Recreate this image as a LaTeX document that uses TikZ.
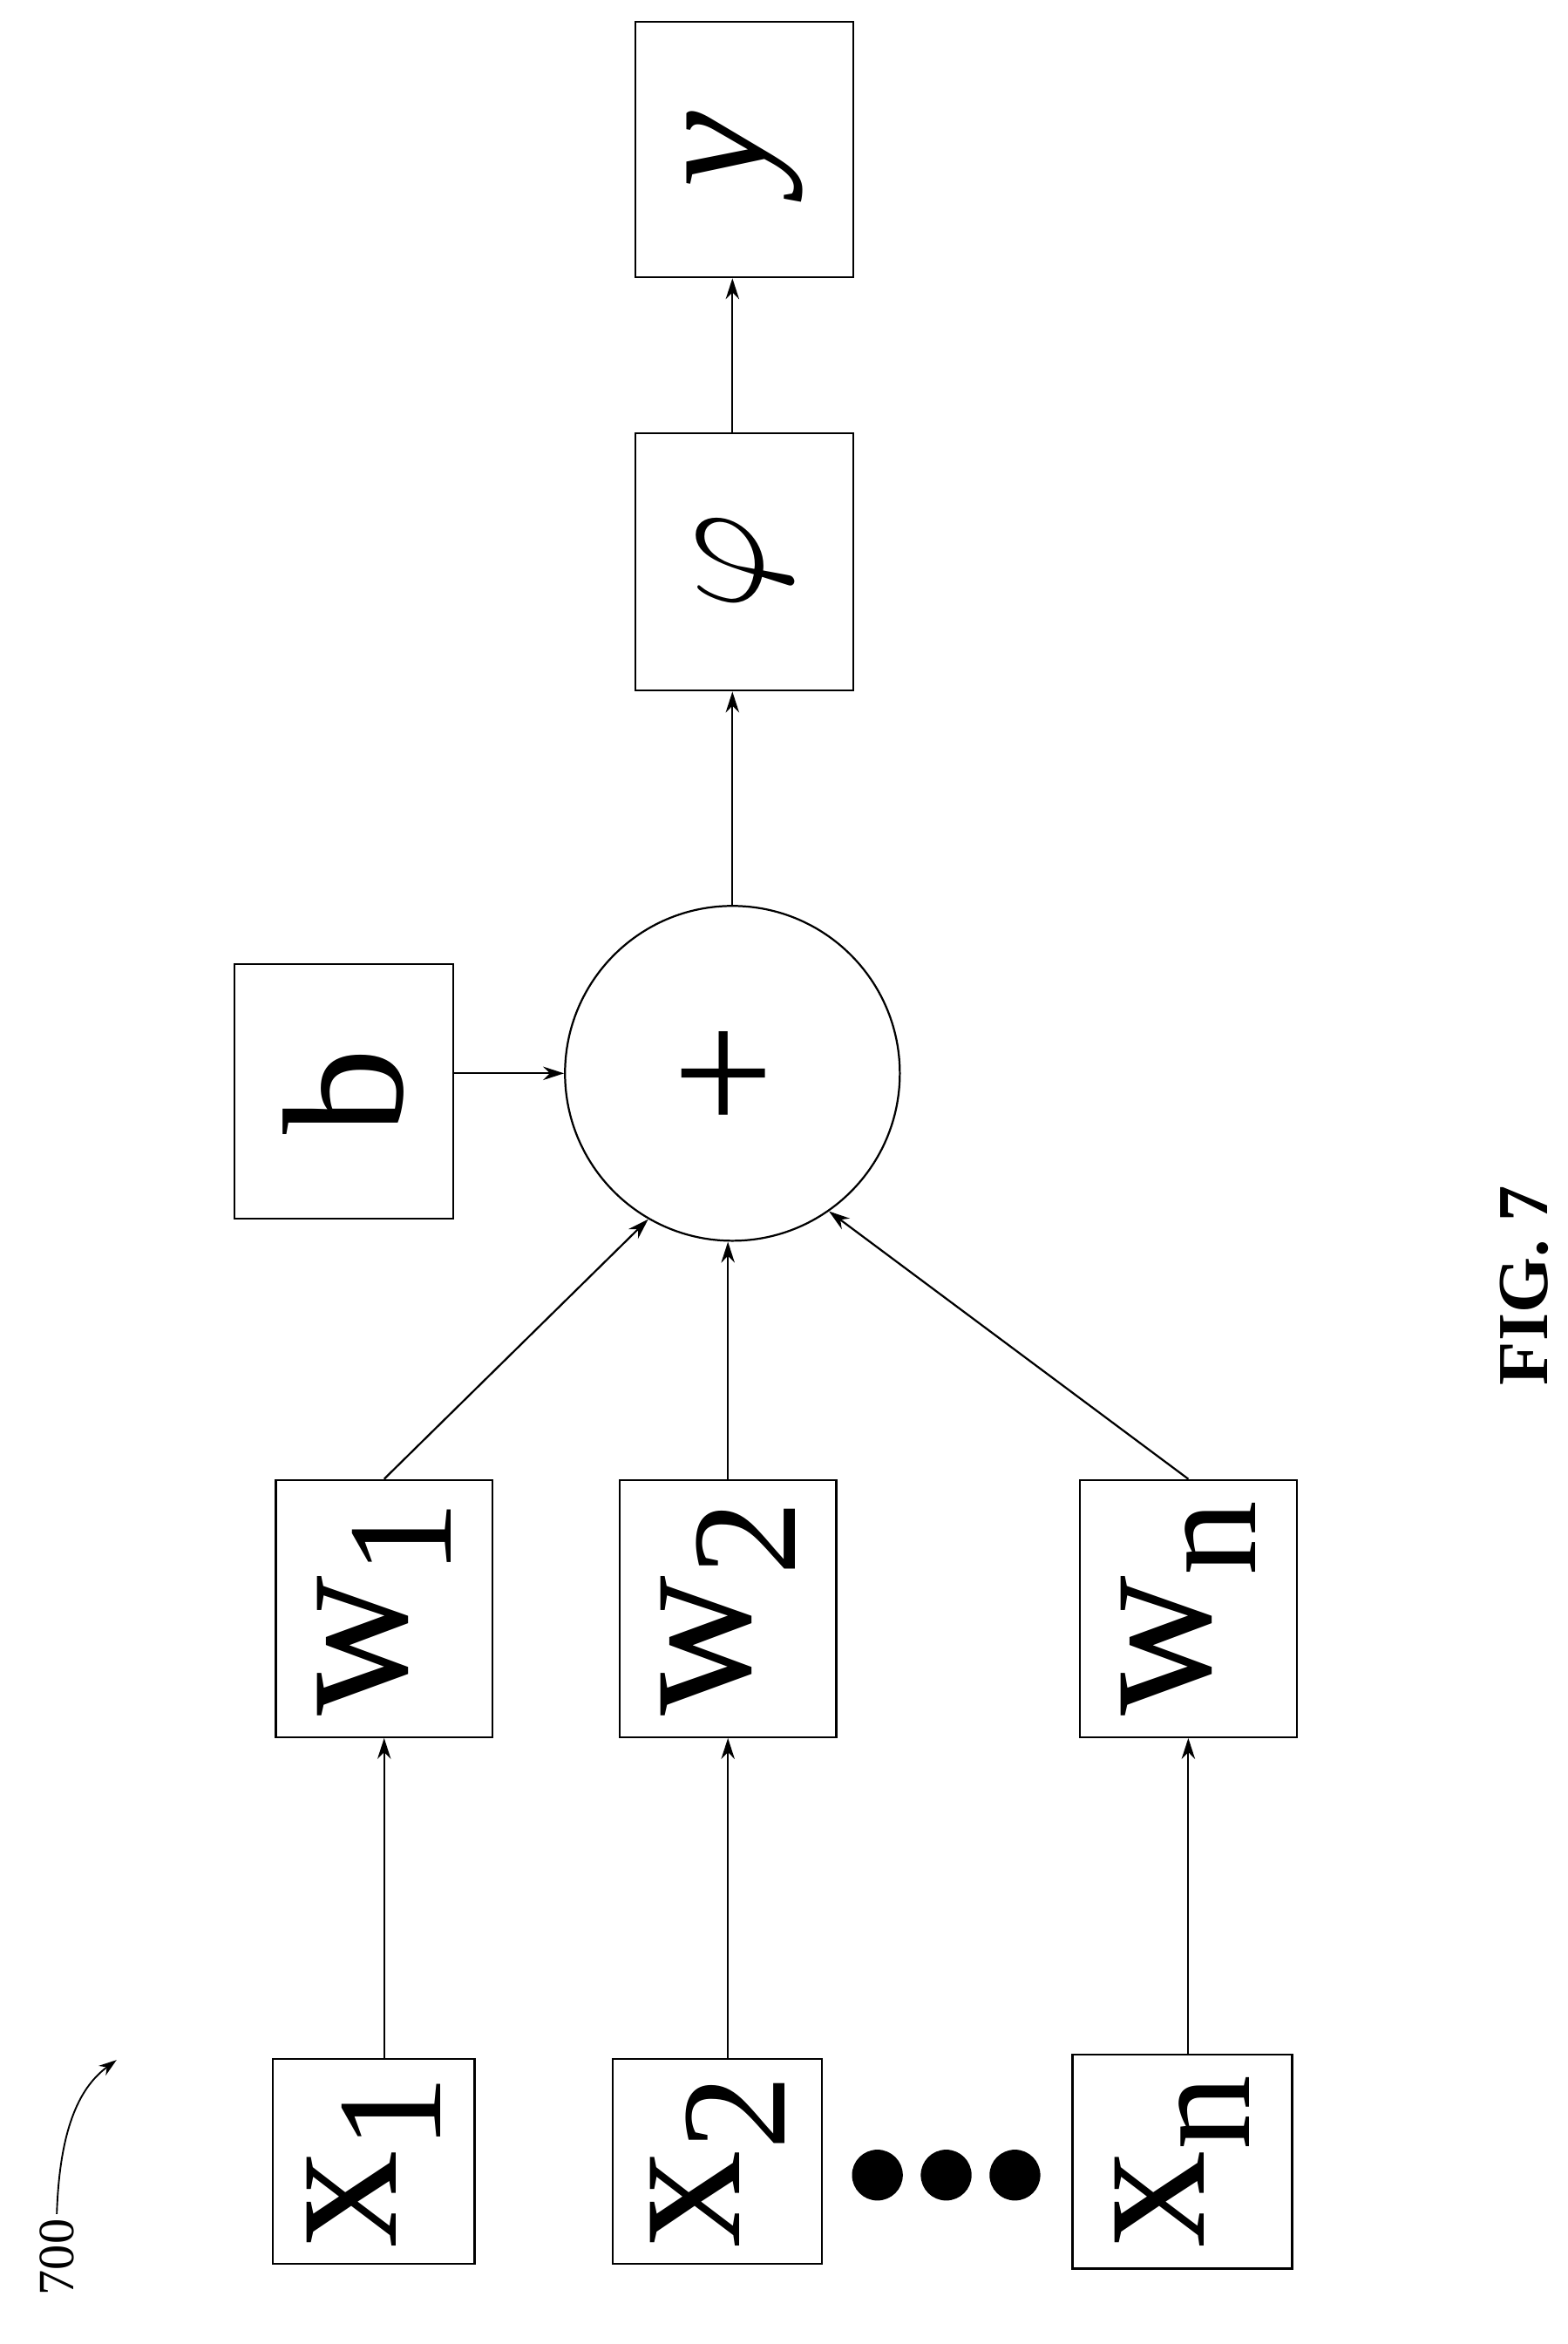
\documentclass[tikz,border=0pt]{standalone}
\usepackage{fontspec}
\setmainfont{Liberation Serif}
\usetikzlibrary{arrows.meta}
\begin{document}
\begin{tikzpicture}[x=1pt,y=-1pt,
 bx/.style={draw,line width=1.3pt,inner sep=0pt},
 arr/.style={-{Stealth[length=14pt,width=9pt]},line width=1.3pt},
 big/.style={font=\fontsize{130}{130}\selectfont,rotate=90}]
\useasboundingbox (0,0) rectangle (1049,1568);
\newcommand{\sbs}[1]{{\fontsize{100}{100}\selectfont\raisebox{-0.3em}{#1}}}
\node[bx,minimum width=146,minimum height=171] (y) at (498,100) {};
\node[big,font=\fontsize{115}{115}\selectfont\itshape] at (498,100) {y};
\node[bx,minimum width=146,minimum height=172] (phi) at (498,376) {};
\node[rotate=90] at (498,376) {\scalebox{10}{$\varphi$}};
\node[draw,circle,line width=1.3pt,minimum size=224,inner sep=0pt] (s) at (490,718) {};
\node[rotate=90,font=\fontsize{120}{120}\selectfont] at (490,718) {+};
\node[bx,minimum width=146,minimum height=170] (b) at (230,730) {};
\node[big,font=\fontsize{115}{115}\selectfont] at (230,730) {b};
\foreach \n/\cx/\s in {w1/257/1,w2/487/2,wn/795/n}{
 \node[bx,minimum width=145,minimum height=172] (\n) at (\cx,1076) {};
 \node[big] at (\cx,1076) {w\sbs{\s}};}
\node[bx,minimum width=135,minimum height=137] (x1) at (250,1446) {};
\node[big] at (250,1446) {x\sbs{1}};
\node[bx,minimum width=140,minimum height=137] (x2) at (480,1446) {};
\node[big] at (480,1446) {x\sbs{2}};
\node[bx,minimum width=147,minimum height=143] (xn) at (791,1446) {};
\node[big] at (791,1446) {x\sbs{n}};
\foreach \d in {587,633,679} \fill (\d,1455) circle (17);
\draw[arr] (w1.south|-x1.north) -- (w1.south);
\draw[arr] (w2.south|-x2.north) -- (w2.south);
\draw[arr] (wn.south|-xn.north) -- (wn.south);
\draw[arr] (w1.north) -- (s.240);
\draw[arr] (w2.north) -- (w2.north|-s.south);
\draw[arr] (wn.north) -- (s.305);
\draw[arr] (b.east|-s.west) -- (s.west);
\draw[arr] (s.north) -- (s.north|-phi.south);
\draw[arr] (s.north|-phi.north) -- (s.north|-y.south);
\node[rotate=90,font=\fontsize{48}{48}\selectfont\bfseries] (fig) at (1020,860) {FIG. 7};
\node[rotate=90,font=\fontsize{34}{34}\selectfont] (lbl) at (38,1510) {700};
\coordinate (tip) at (78,1378);
\draw[-{Stealth[length=12pt,width=8pt]},line width=1.1pt] (lbl.east) .. controls (40,1420) and (55,1395) .. (tip);
\end{tikzpicture}
\end{document}
